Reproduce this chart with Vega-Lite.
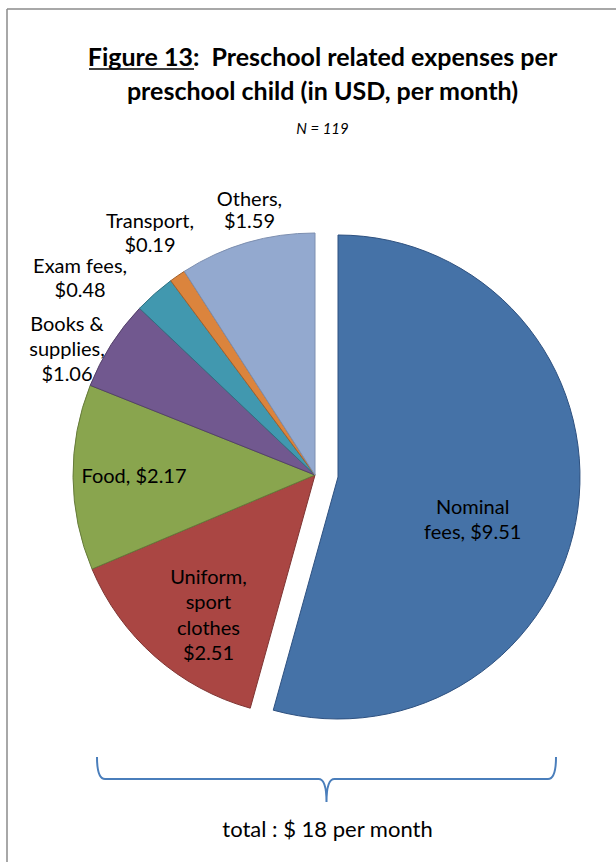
{
  "$schema": "https://vega.github.io/schema/vega-lite/v6.json",
  "width": 609,
  "height": 853,
  "autosize": {"type": "none"},
  "padding": {"left": 7, "top": 9, "right": 0, "bottom": 0},
  "background": "white",
  "view": {"stroke": "#8c8c8c", "strokeWidth": 1.5, "strokeDash": [609, 1462, 853, 0], "fill": "white"},
  "config": {"font": "Lato"},
  "title": {
    "text": ["Figure 13:\u00a0 Preschool related expenses per", "preschool child (in USD, per month)"],
    "subtitle": "N = 119",
    "anchor": "middle",
    "frame": "group",
    "font": "Lato",
    "fontSize": 25,
    "fontWeight": "bold",
    "color": "black",
    "lineHeight": 34,
    "subtitleFont": "Lato",
    "subtitleFontSize": 15,
    "subtitleFontStyle": "italic",
    "subtitleColor": "black",
    "subtitlePadding": 17,
    "offset": -128,
    "dx": 11
  },
  "layer": [
    {
      "data": {
        "values": [
          {"category": "Nominal fees", "value": 9.51, "label": "Nominal\nfees, $9.51"},
          {"category": "Uniform, sport clothes", "value": 2.51, "label": "Uniform,\nsport\nclothes\n$2.51"},
          {"category": "Food", "value": 2.17, "label": "Food, $2.17"},
          {"category": "Books & supplies", "value": 1.06, "label": "Books &\nsupplies,\n$1.06"},
          {"category": "Exam fees", "value": 0.48, "label": "Exam fees,\n$0.48"},
          {"category": "Transport", "value": 0.19, "label": "Transport,\n$0.19"},
          {"category": "Others", "value": 1.59, "label": "Others,\n$1.59"}
        ]
      },
      "transform": [
        {"stack": "value", "groupby": [], "as": ["v0", "v1"]},
        {"calculate": "(datum.v0 + datum.v1) / 2", "as": "mid"}
      ],
      "layer": [
        {
          "transform": [{"filter": "datum.category !== 'Nominal fees'"}],
          "mark": {"type": "arc", "radius": 242, "xOffset": 3.5, "yOffset": 39.5, "strokeWidth": 1},
          "encoding": {
            "theta": {"field": "v1", "type": "quantitative", "stack": null, "scale": {"zero": true, "nice": false}},
            "theta2": {"field": "v0"},
            "color": {
              "field": "category", "type": "nominal", "legend": null,
              "scale": {
                "domain": ["Nominal fees", "Uniform, sport clothes", "Food", "Books & supplies", "Exam fees", "Transport", "Others"],
                "range": ["#4572A7", "#AA4643", "#89A54E", "#71588F", "#4198AF", "#DB843D", "#93A9CF"]
              }
            },
            "stroke": {
              "field": "category", "type": "nominal", "legend": null,
              "scale": {
                "domain": ["Nominal fees", "Uniform, sport clothes", "Food", "Books & supplies", "Exam fees", "Transport", "Others"],
                "range": ["#2E5180", "#7E3432", "#667B3A", "#54416A", "#307182", "#A3622D", "#7D8FB0"]
              }
            }
          }
        },
        {
          "transform": [{"filter": "datum.category === 'Nominal fees'"}],
          "mark": {"type": "arc", "radius": 242, "xOffset": 26.5, "yOffset": 41.5, "strokeWidth": 1},
          "encoding": {
            "theta": {"field": "v1", "type": "quantitative", "stack": null, "scale": {"zero": true, "nice": false}},
            "theta2": {"field": "v0"},
            "color": {"field": "category", "type": "nominal", "legend": null},
            "stroke": {"field": "category", "type": "nominal", "legend": null}
          }
        },
        {
          "transform": [{"filter": "datum.category === 'Nominal fees'"}],
          "mark": {"type": "text", "radius": 140, "xOffset": 26.5, "yOffset": 41.5, "dx": -4, "dy": 12, "font": "Lato", "fontSize": 20, "lineBreak": "\n", "lineHeight": 25, "color": "black"},
          "encoding": {"theta": {"field": "mid", "type": "quantitative", "stack": null}, "text": {"field": "label"}}
        },
        {
          "transform": [{"filter": "datum.category === 'Uniform, sport clothes'"}],
          "mark": {"type": "text", "radius": 178, "xOffset": 3.5, "yOffset": 39.5, "dx": 11, "dy": -31, "font": "Lato", "fontSize": 20, "lineBreak": "\n", "lineHeight": 25.5, "color": "black"},
          "encoding": {"theta": {"field": "mid", "type": "quantitative", "stack": null}, "text": {"field": "label"}}
        },
        {
          "transform": [{"filter": "datum.category === 'Food'"}],
          "mark": {"type": "text", "radius": 181, "xOffset": 3.5, "yOffset": 39.5, "font": "Lato", "fontSize": 20, "lineBreak": "\n", "lineHeight": 25, "color": "black"},
          "encoding": {"theta": {"field": "mid", "type": "quantitative", "stack": null}, "text": {"field": "label"}}
        },
        {
          "transform": [{"filter": "datum.category === 'Books & supplies'"}],
          "mark": {"type": "text", "radius": 285, "xOffset": 3.5, "yOffset": 39.5, "dx": -8, "dy": 4, "font": "Lato", "fontSize": 20, "lineBreak": "\n", "lineHeight": 25, "color": "black"},
          "encoding": {"theta": {"field": "mid", "type": "quantitative", "stack": null}, "text": {"field": "label"}}
        },
        {
          "transform": [{"filter": "datum.category === 'Exam fees'"}],
          "mark": {"type": "text", "radius": 300, "xOffset": 3.5, "yOffset": 39.5, "dx": -36, "dy": 17, "font": "Lato", "fontSize": 20, "lineBreak": "\n", "lineHeight": 24, "color": "black"},
          "encoding": {"theta": {"field": "mid", "type": "quantitative", "stack": null}, "text": {"field": "label"}}
        },
        {
          "transform": [{"filter": "datum.category === 'Transport'"}],
          "mark": {"type": "text", "radius": 292, "xOffset": 3.5, "yOffset": 39.5, "dx": 1, "dy": -13, "font": "Lato", "fontSize": 20, "lineBreak": "\n", "lineHeight": 24, "color": "black"},
          "encoding": {"theta": {"field": "mid", "type": "quantitative", "stack": null}, "text": {"field": "label"}}
        },
        {
          "transform": [{"filter": "datum.category === 'Others'"}],
          "mark": {"type": "text", "radius": 272, "xOffset": 3.5, "yOffset": 39.5, "dx": 11, "dy": -14, "font": "Lato", "fontSize": 20, "lineBreak": "\n", "lineHeight": 22, "color": "black"},
          "encoding": {"theta": {"field": "mid", "type": "quantitative", "stack": null}, "text": {"field": "label"}}
        }
      ]
    },
    {
      "data": {"values": [{"note": "total : $ 18 per month"}]},
      "layer": [
        {
          "mark": {
            "type": "point",
            "shape": "M -1 -0.096 Q -1 0 -0.965 0 L -0.035 0 Q 0 0 0 0.1 M 0 0.1 Q 0 0 0.035 0 L 0.965 0 Q 1 0 1 -0.096",
            "size": 210681,
            "filled": false,
            "fill": null,
            "stroke": "#4A7EBB",
            "strokeWidth": 2,
            "opacity": 1,
            "xOffset": 15,
            "yOffset": 343.5
          },
          "encoding": {}
        },
        {
          "mark": {
            "type": "point",
            "shape": "M -1 0 L 1 0",
            "size": 11025,
            "filled": false,
            "fill": null,
            "stroke": "black",
            "strokeWidth": 1.5,
            "opacity": 1,
            "xOffset": -170,
            "yOffset": -366.5
          },
          "encoding": {}
        },
        {
          "mark": {"type": "text", "font": "Lato", "fontSize": 22, "color": "black", "xOffset": 16, "yOffset": 394.5},
          "encoding": {"text": {"field": "note"}}
        }
      ]
    }
  ]
}
